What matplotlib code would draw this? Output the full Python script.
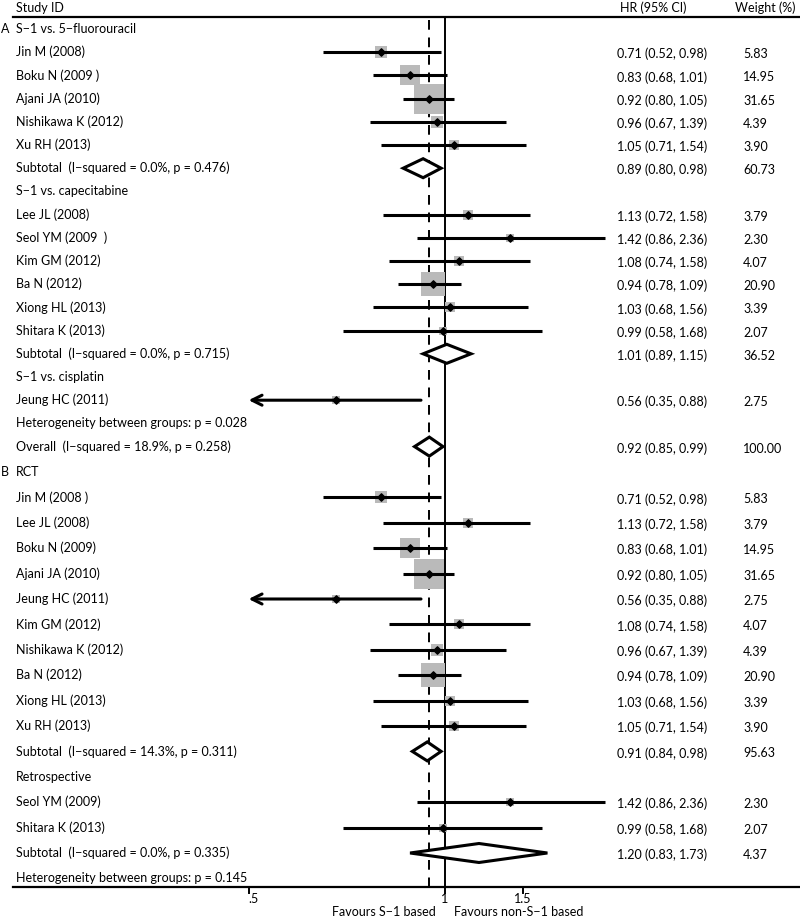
import numpy as np
import matplotlib
matplotlib.use("Agg")
import matplotlib.pyplot as plt
import matplotlib.transforms as mtransforms

plt.rcParams['font.family'] = ['Lato', 'DejaVu Sans']

# ---------------- data ----------------
# panel A : by control regimen
a_labels = ['S\u22121 vs. 5\u2212fluorouracil',
            'Jin M (2008)', 'Boku N (2009 )', 'Ajani JA (2010)', 'Nishikawa K (2012)', 'Xu RH (2013)',
            'Subtotal  (I\u2212squared = 0.0%, p = 0.476)',
            'S\u22121 vs. capecitabine',
            'Lee JL (2008)', 'Seol YM (2009  )', 'Kim GM (2012)', 'Ba N (2012)', 'Xiong HL (2013)', 'Shitara K (2013)',
            'Subtotal  (I\u2212squared = 0.0%, p = 0.715)',
            'S\u22121 vs. cisplatin',
            'Jeung HC (2011)',
            'Heterogeneity between groups: p = 0.028',
            'Overall  (I\u2212squared = 18.9%, p = 0.258)']
a_kind = ['head', 'study', 'study', 'study', 'study', 'study', 'sub',
          'head', 'study', 'study', 'study', 'study', 'study', 'study', 'sub',
          'head', 'study', 'text', 'overall']
a_hr = [None, 0.71, 0.83, 0.92, 0.96, 1.05, 0.89,
        None, 1.13, 1.42, 1.08, 0.94, 1.03, 0.99, 1.01,
        None, 0.56, None, 0.92]
a_lo = [None, 0.52, 0.68, 0.80, 0.67, 0.71, 0.80,
        None, 0.72, 0.86, 0.74, 0.78, 0.68, 0.58, 0.89,
        None, 0.35, None, 0.85]
a_hi = [None, 0.98, 1.01, 1.05, 1.39, 1.54, 0.98,
        None, 1.58, 2.36, 1.58, 1.09, 1.56, 1.68, 1.15,
        None, 0.88, None, 0.99]
a_wt = [None, 5.83, 14.95, 31.65, 4.39, 3.90, 60.73,
        None, 3.79, 2.30, 4.07, 20.90, 3.39, 2.07, 36.52,
        None, 2.75, None, 100.00]

# panel B : by study design
b_labels = ['RCT',
            'Jin M (2008 )', 'Lee JL (2008)', 'Boku N (2009)', 'Ajani JA (2010)', 'Jeung HC (2011)',
            'Kim GM (2012)', 'Nishikawa K (2012)', 'Ba N (2012)', 'Xiong HL (2013)', 'Xu RH (2013)',
            'Subtotal  (I\u2212squared = 14.3%, p = 0.311)',
            'Retrospective',
            'Seol YM (2009)', 'Shitara K (2013)',
            'Subtotal  (I\u2212squared = 0.0%, p = 0.335)',
            'Heterogeneity between groups: p = 0.145']
b_kind = ['head', 'study', 'study', 'study', 'study', 'study', 'study', 'study', 'study', 'study', 'study',
          'sub', 'head', 'study', 'study', 'sub', 'text']
b_hr = [None, 0.71, 1.13, 0.83, 0.92, 0.56, 1.08, 0.96, 0.94, 1.03, 1.05, 0.91,
        None, 1.42, 0.99, 1.20, None]
b_lo = [None, 0.52, 0.72, 0.68, 0.80, 0.35, 0.74, 0.67, 0.78, 0.68, 0.71, 0.84,
        None, 0.86, 0.58, 0.83, None]
b_hi = [None, 0.98, 1.58, 1.01, 1.05, 0.88, 1.58, 1.39, 1.09, 1.56, 1.54, 0.98,
        None, 2.36, 1.68, 1.73, None]
b_wt = [None, 5.83, 3.79, 14.95, 31.65, 2.75, 4.07, 4.39, 20.90, 3.39, 3.90, 95.63,
        None, 2.30, 2.07, 4.37, None]

tick_vals = [0.35, 1.0, 1.52]
tick_labels = ['.5', '1', '1.5']

# ---------------- figure ----------------
W, H = 800, 917
fig = plt.figure(figsize=(W / 100, H / 100), dpi=100)
ax = fig.add_axes([0, 0, 1, 1])
ax.set_xscale('log')
ax.set_xlim(0.0926, 6.68)
ax.set_ylim(H, 0)
ax.axis('off')

tr = mtransforms.blended_transform_factory(ax.transAxes, ax.transData)
fs = 9
x_min = 0.35


def px(x):
    return x / W


def draw_panel(labels, kind, hr, lo, hi, wt, y0, step):
    ys = y0 + step * np.arange(len(labels))
    for i, y in enumerate(ys):
        ax.text(px(16), y, labels[i], transform=tr, fontsize=fs, va='center', ha='left')
        if hr[i] is None:
            continue
        ax.text(px(617), y + 2, '%.2f (%.2f, %.2f)' % (hr[i], lo[i], hi[i]),
                transform=tr, fontsize=fs, va='center', ha='left')
        ax.text(px(743), y + 2, '%.2f' % wt[i], transform=tr, fontsize=fs, va='center', ha='left')
        if kind[i] == 'study':
            ax.scatter([hr[i]], [y], marker='s', s=14.6 * wt[i], color='#bababa',
                       linewidths=0, zorder=2)
            if lo[i] <= x_min:
                ax.annotate('', xy=(lo[i], y), xytext=(hi[i], y),
                            arrowprops=dict(arrowstyle='->', lw=2.2, color='black',
                                            shrinkA=0, shrinkB=0, mutation_scale=18),
                            zorder=3)
            else:
                ax.plot([lo[i], hi[i]], [y, y], color='black', lw=2.2, zorder=3,
                        solid_capstyle='butt')
            ax.scatter([hr[i]], [y], marker='D', s=14, color='black', zorder=4)
        else:
            h = 9.5
            ax.fill([lo[i], hr[i], hi[i], hr[i], lo[i]], [y, y - h, y, y + h, y],
                    facecolor='white', edgecolor='black', lw=2.2, zorder=4,
                    joinstyle='miter')
    return ys


draw_panel(a_labels, a_kind, a_hr, a_lo, a_hi, a_wt, 29, 23.2)
draw_panel(b_labels, b_kind, b_hr, b_lo, b_hi, b_wt, 472, 25.4)

ax.text(px(1), 29, 'A', transform=tr, fontsize=fs, va='center', ha='left')
ax.text(px(1), 472, 'B', transform=tr, fontsize=fs, va='center', ha='left')

# header
ax.text(px(16), 8, 'Study ID', transform=tr, fontsize=fs, va='center', ha='left')
ax.text(px(653), 8, 'HR (95% CI)', transform=tr, fontsize=fs, va='center', ha='center')
ax.text(px(765), 8, 'Weight (%)', transform=tr, fontsize=fs, va='center', ha='center')
ax.plot([px(13), 1], [17, 17], transform=tr, color='black', lw=1.6)

# reference lines
y_top, y_axis = 17, 887
overall = a_hr[a_kind.index('overall')]
ax.plot([1, 1], [y_top, y_axis], color='black', lw=1.4, zorder=1)
ax.plot([overall, overall], [y_top + 3, y_axis], color='black', lw=1.4,
        dashes=(5, 4), zorder=1)

# x axis
ax.plot([px(13), 1], [y_axis, y_axis], transform=tr, color='black', lw=1.6)
for v, lab in zip(tick_vals, tick_labels):
    ax.plot([v, v], [y_axis, y_axis + 6], color='black', lw=1.4)
    ax.text(v, 899, lab, fontsize=fs, ha='left' if lab == '.5' else 'center', va='center')

ax.text(px(384), 912, 'Favours S\u22121 based', transform=tr, fontsize=fs, ha='center', va='center')
ax.text(px(519), 912, 'Favours non-S\u22121 based', transform=tr, fontsize=fs, ha='center', va='center')

fig.savefig('out.png', dpi=100)
